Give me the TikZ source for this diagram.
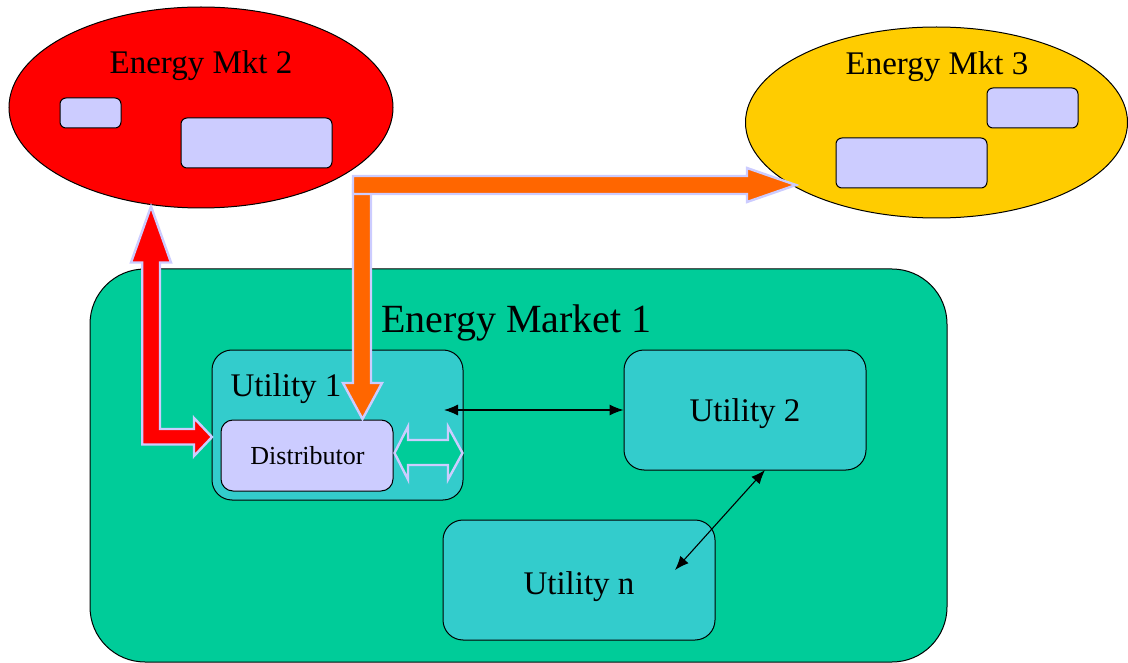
\documentclass[tikz,border=0pt]{standalone}
\usepackage{fontspec}
\setmainfont{Liberation Serif}
\usetikzlibrary{shapes.geometric,arrows.meta}
\definecolor{mktred}{HTML}{FF0000}
\definecolor{mktyellow}{HTML}{FFCC00}
\definecolor{mktgreen}{HTML}{00CC99}
\definecolor{utilcyan}{HTML}{33CCCC}
\definecolor{lav}{HTML}{CCCCFF}
\definecolor{orangearrow}{HTML}{FF6600}
\tikzset{
  mktellipse/.style={ellipse, draw=black, line width=1pt, inner sep=0pt},
  rbox/.style={rectangle, draw=black, line width=1pt, inner sep=0pt, anchor=center},
  smallbox/.style={rbox, fill=lav, rounded corners=6pt},
  utilbox/.style={rbox, fill=utilcyan, rounded corners=20pt},
  blockarrow/.style={draw=lav, line width=2.4pt, line join=miter},
  lbl/.style={anchor=base, inner sep=0pt, text=black},
  thinarrow/.style={{Latex[length=14pt,width=11pt]}-{Latex[length=14pt,width=11pt]}, line width=1.1pt, black}
}
\begin{document}
\begin{tikzpicture}[x=1pt,y=-1pt]
\useasboundingbox (0,0) rectangle (1128,663);
% Energy markets 2 and 3
\node[mktellipse, fill=mktred, minimum width=384pt, minimum height=201pt] (m2) at (201,107.5) {};
\node[mktellipse, fill=mktyellow, minimum width=382pt, minimum height=191pt] (m3) at (936.5,122.5) {};
\node[smallbox, minimum width=61pt, minimum height=30pt] (m2a) at (90.5,113) {};
\node[smallbox, minimum width=151pt, minimum height=50pt] (m2b) at (256.5,143) {};
\node[smallbox, minimum width=91pt, minimum height=40pt] (m3a) at (1032.5,108) {};
\node[smallbox, minimum width=151pt, minimum height=50pt] (m3b) at (911.5,163) {};
\node[lbl, font=\fontsize{33}{36}\selectfont] (t2) at (201,74) {Energy Mkt 2};
\node[lbl, font=\fontsize{33}{36}\selectfont] (t3) at (937,75) {Energy Mkt 3};
% Energy market 1
\node[rbox, fill=mktgreen, rounded corners=55pt, minimum width=857pt, minimum height=393pt] (m1) at (518.5,465.5) {};
\node[lbl, font=\fontsize{40}{44}\selectfont] (t1) at (516.5,333) {Energy Market 1};
\node[utilbox, minimum width=251pt, minimum height=150pt] (u1) at (337.5,425) {};
\node[utilbox, minimum width=242pt, minimum height=120pt] (u2) at (745,410) {};
\node[utilbox, minimum width=272pt, minimum height=120pt] (un) at (579,580) {};
\node[smallbox, rounded corners=12pt, minimum width=172pt, minimum height=71pt] (dist) at (307,455.5) {};
\node[lbl, font=\fontsize{33}{36}\selectfont] (tu1) at (286,396) {Utility 1};
\node[lbl, font=\fontsize{33}{36}\selectfont] (tu2) at (745,421) {Utility 2};
\node[lbl, font=\fontsize{33}{36}\selectfont] (tun) at (579,594) {Utility n};
\node[lbl, font=\fontsize{26}{30}\selectfont] (td) at (307.5,464) {Distributor};
% red block arrow (Mkt 2 <-> Distributor)
\draw[blockarrow, fill=mktred] (151,206.5) -- (171,262.5) -- (160,262.5) -- (160,429) -- (194,429) -- (194,418) -- (212,437) -- (194,456) -- (194,444.5) -- (142.2,444.5) -- (142.2,262.5) -- (131,262.5) -- cycle;
% orange block arrow (Utility 1 -> Mkt 3)
\draw[blockarrow, fill=orangearrow] (353,185) -- (371,185) -- (371,383) -- (382,383) -- (362.5,419) -- (343,383) -- (353,383) -- cycle;
\draw[blockarrow, fill=orangearrow] (353,176) -- (747,176) -- (747,168) -- (796,185) -- (747,202) -- (747,194) -- (353,194) -- cycle;
% hollow double arrow
\draw[blockarrow, fill=mktgreen] (394.5,453) -- (408,426.5) -- (408,440) -- (448,440) -- (448,426.5) -- (462.5,453) -- (448,479.5) -- (448,465) -- (408,465) -- (408,479.5) -- cycle;
% thin connectors
\coordinate (a1) at (444,410);
\draw[thinarrow] (a1) -- (u2.west);
\coordinate (b1) at (765,470);
\coordinate (b2) at (675,570);
\draw[thinarrow] (b1) -- (b2);
\end{tikzpicture}
\end{document}
